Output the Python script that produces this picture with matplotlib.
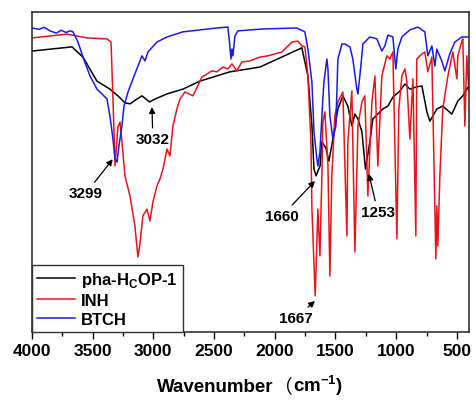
import matplotlib
matplotlib.use('Agg')
import matplotlib.pyplot as plt
from matplotlib.ticker import MultipleLocator
from matplotlib.offsetbox import TextArea, HPacker, AnchoredOffsetbox

plt.rcParams['font.family'] = ['Liberation Sans', 'DejaVu Sans']
plt.rcParams['font.weight'] = 'bold'
plt.rcParams['mathtext.fontset'] = 'custom'
plt.rcParams['mathtext.rm'] = 'Liberation Sans:bold'
plt.rcParams['mathtext.bf'] = 'Liberation Sans:bold'

# traced spectra (wavenumber in cm-1, transmittance in a.u.)
wn_hop = [4000, 3671, 3580, 3465, 3358, 3292, 3234, 3193, 3135, 3094, 3032, 2987,
          2888, 2757, 2617, 2370, 2122, 1777, 1727, 1694, 1677, 1660, 1627, 1612,
          1579, 1554, 1521, 1480, 1439, 1398, 1365, 1340, 1315, 1282, 1253, 1217,
          1192, 1151, 1110, 1068, 1027, 969, 928, 887, 830, 788, 747, 722, 665,
          616, 541, 492, 451, 401]
t_hop = [87.8, 89.1, 85.9, 78.4, 75.9, 73.8, 71.6, 71.3, 72.8, 73.8, 71.9, 72.8,
         74.4, 75.9, 78.4, 81.3, 82.8, 88.8, 80.0, 64.4, 50.9, 48.8, 51.9, 59.4,
         57.5, 53.4, 60.3, 69.7, 73.8, 70.6, 64.4, 68.1, 66.6, 62.5, 50.9, 59.4,
         66.6, 68.1, 69.7, 70.6, 73.4, 75.3, 77.5, 75.9, 76.6, 76.9, 68.8, 65.9,
         69.7, 70.6, 68.1, 72.2, 73.8, 76.9]

wn_inh = [4000, 3712, 3547, 3382, 3349, 3333, 3316, 3292, 3275, 3259, 3234, 3193,
          3152, 3127, 3111, 3086, 3053, 3028, 3004, 2971, 2946, 2921, 2888, 2864,
          2839, 2806, 2781, 2740, 2674, 2600, 2559, 2518, 2477, 2427, 2386, 2353,
          2312, 2271, 2205, 2122, 2057, 1941, 1859, 1810, 1777, 1752, 1727, 1702,
          1694, 1667, 1653, 1645, 1628, 1612, 1604, 1587, 1562, 1546, 1530, 1505,
          1480, 1439, 1406, 1398, 1365, 1340, 1315, 1282, 1258, 1233, 1200, 1175,
          1151, 1118, 1077, 1052, 1027, 994, 978, 953, 928, 912, 887, 862, 838,
          830, 788, 764, 739, 706, 673, 665, 657, 640, 616, 574, 533, 500, 492,
          459, 451, 434, 418, 401]
t_inh = [91.9, 93.1, 91.9, 91.6, 90.6, 72.8, 51.9, 64.1, 65.6, 59.4, 48.8, 42.5,
         33.1, 23.4, 27.5, 36.3, 38.4, 34.7, 40.6, 45.6, 47.8, 50.9, 57.2, 55.0,
         64.4, 69.7, 72.8, 75.0, 73.8, 79.7, 80.6, 81.6, 81.3, 82.8, 82.2, 83.8,
         81.6, 84.4, 84.7, 85.9, 86.3, 87.5, 90.6, 90.9, 89.4, 89.1, 80.0, 59.4,
         38.4, 11.3, 28.1, 38.4, 23.8, 48.8, 65.6, 68.8, 51.9, 17.5, 48.8, 67.5,
         71.9, 75.0, 30.0, 59.4, 75.3, 25.0, 64.4, 71.9, 73.8, 42.5, 71.9, 80.0,
         51.9, 80.0, 86.3, 85.3, 87.5, 29.1, 69.7, 80.0, 82.2, 78.4, 60.3, 79.1, 30.0,
         85.3, 86.9, 87.5, 81.3, 85.9, 22.8, 39.4, 26.9, 48.8, 69.7, 80.0, 87.5, 79.1, 86.3,
         90.9, 91.6, 64.4, 86.3, 75.0]

wn_btch = [4000, 3940, 3900, 3852, 3800, 3760, 3720, 3687, 3662, 3621, 3580, 3522,
           3465, 3424, 3382, 3358, 3333, 3316, 3299, 3284, 3259, 3242, 3209, 3168,
           3127, 3094, 3069, 3045, 2971, 2888, 2756, 2617, 2477, 2386, 2370, 2361,
           2353, 2345, 2328, 2304, 2098, 1818, 1752, 1727, 1694, 1677, 1653, 1645,
           1628, 1604, 1595, 1571, 1562, 1546, 1521, 1497, 1480, 1447, 1422, 1381,
           1357, 1324, 1315, 1291, 1274, 1217, 1159, 1118, 1093, 1068, 1027, 1003,
           986, 953, 887, 821, 764, 739, 706, 681, 665, 624, 599, 558, 517, 459, 401]
t_btch = [95.0, 94.6, 95.2, 94.1, 93.4, 94.3, 93.6, 94.1, 93.8, 90.6, 85.9, 80.0,
          75.9, 74.4, 72.8, 67.5, 60.3, 54.1, 53.1, 58.1, 64.4, 70.6, 75.0, 79.1,
          83.1, 86.3, 84.7, 87.5, 90.6, 92.2, 93.8, 94.4, 95.0, 95.3, 89.4, 85.3,
          88.4, 86.3, 92.5, 94.1, 94.7, 95.0, 93.8, 88.4, 78.1, 62.5, 54.1, 51.9,
          56.3, 72.8, 78.1, 85.3, 82.2, 67.5, 60.3, 64.4, 85.3, 90.0, 90.0, 89.1,
          85.3, 75.9, 74.4, 83.1, 90.0, 92.2, 91.6, 87.8, 89.4, 92.8, 92.2, 82.2,
          88.4, 92.2, 94.4, 95.3, 93.8, 86.3, 89.4, 83.1, 88.4, 84.7, 81.6, 86.9,
          90.6, 92.2, 92.2]

labels = [r'pha-H$_\mathbf{C}$OP-1', 'INH', 'BTCH']
colors = ['#000000', '#e8141b', '#1a1ae6']

# peak labels: (text, arrow tip, text centre)
peaks = [('3299', (3335, 54.0), (3555, 43.4)),
         ('3032', (3012, 70.3), (3004, 60.3)),
         ('1660', (1669, 47.2), (1941, 36.3)),
         ('1253', (1225, 49.4), (1151, 37.5)),
         ('1667', (1669, 9.7), (1826, 4.4))]

fig = plt.figure(figsize=(4.76, 4.06), dpi=100)
ax = fig.add_axes([32 / 476, 1 - 333 / 406, 437 / 476, 320 / 406])

for wn, t, lab, c in zip([wn_hop, wn_inh, wn_btch], [t_hop, t_inh, t_btch], labels, colors):
    ax.plot(wn, t, color=c, lw=1.1, label=lab)

for txt, tip, pos in peaks:
    ax.annotate(txt, xy=tip, xytext=pos, ha='center', va='center',
                fontsize=11, fontweight='bold',
                arrowprops=dict(arrowstyle='-|>', color='black', lw=0.9,
                                mutation_scale=9, shrinkA=1, shrinkB=0))

ax.set_xlim(4000, 400)
ax.set_ylim(0, 100)
ax.xaxis.set_major_locator(MultipleLocator(500))
ax.xaxis.set_minor_locator(MultipleLocator(250))
ax.tick_params(axis='x', which='major', direction='out', length=5, width=1,
               labelsize=12.5, pad=3)
ax.tick_params(axis='x', which='minor', direction='out', length=3, width=1)
ax.set_yticks([])
for lbl in ax.get_xticklabels():
    lbl.set_fontweight('bold')
for sp in ax.spines.values():
    sp.set_linewidth(1.2)
    sp.set_color('#333333')

leg = ax.legend(loc='lower left', bbox_to_anchor=(0, 0), borderaxespad=0,
                fancybox=False, framealpha=1, edgecolor='#333333',
                prop=dict(family='Liberation Sans', weight='bold', size=12),
                handlelength=2.3, handletextpad=0.35, labelspacing=0.25,
                borderpad=0.3)
leg.get_frame().set_linewidth(1.0)

# x label with full-width bracket
word = TextArea('Wavenumber', textprops=dict(family='Liberation Sans', weight='bold', size=13.5))
brk = TextArea('（', textprops=dict(family='Noto Sans CJK SC', weight='normal', size=13.5))
unit = TextArea(r'cm$^{\mathbf{-1}}$)', textprops=dict(family='Liberation Sans', weight='bold', size=13.5))
box = HPacker(children=[word, brk, unit], align='baseline', pad=0, sep=0)
anch = AnchoredOffsetbox(loc='center', child=box, frameon=False, pad=0, borderpad=0,
                         bbox_to_anchor=(250 / 476, 1 - 386 / 406),
                         bbox_transform=fig.transFigure)
fig.add_artist(anch)

fig.savefig('out.png', dpi=100)
